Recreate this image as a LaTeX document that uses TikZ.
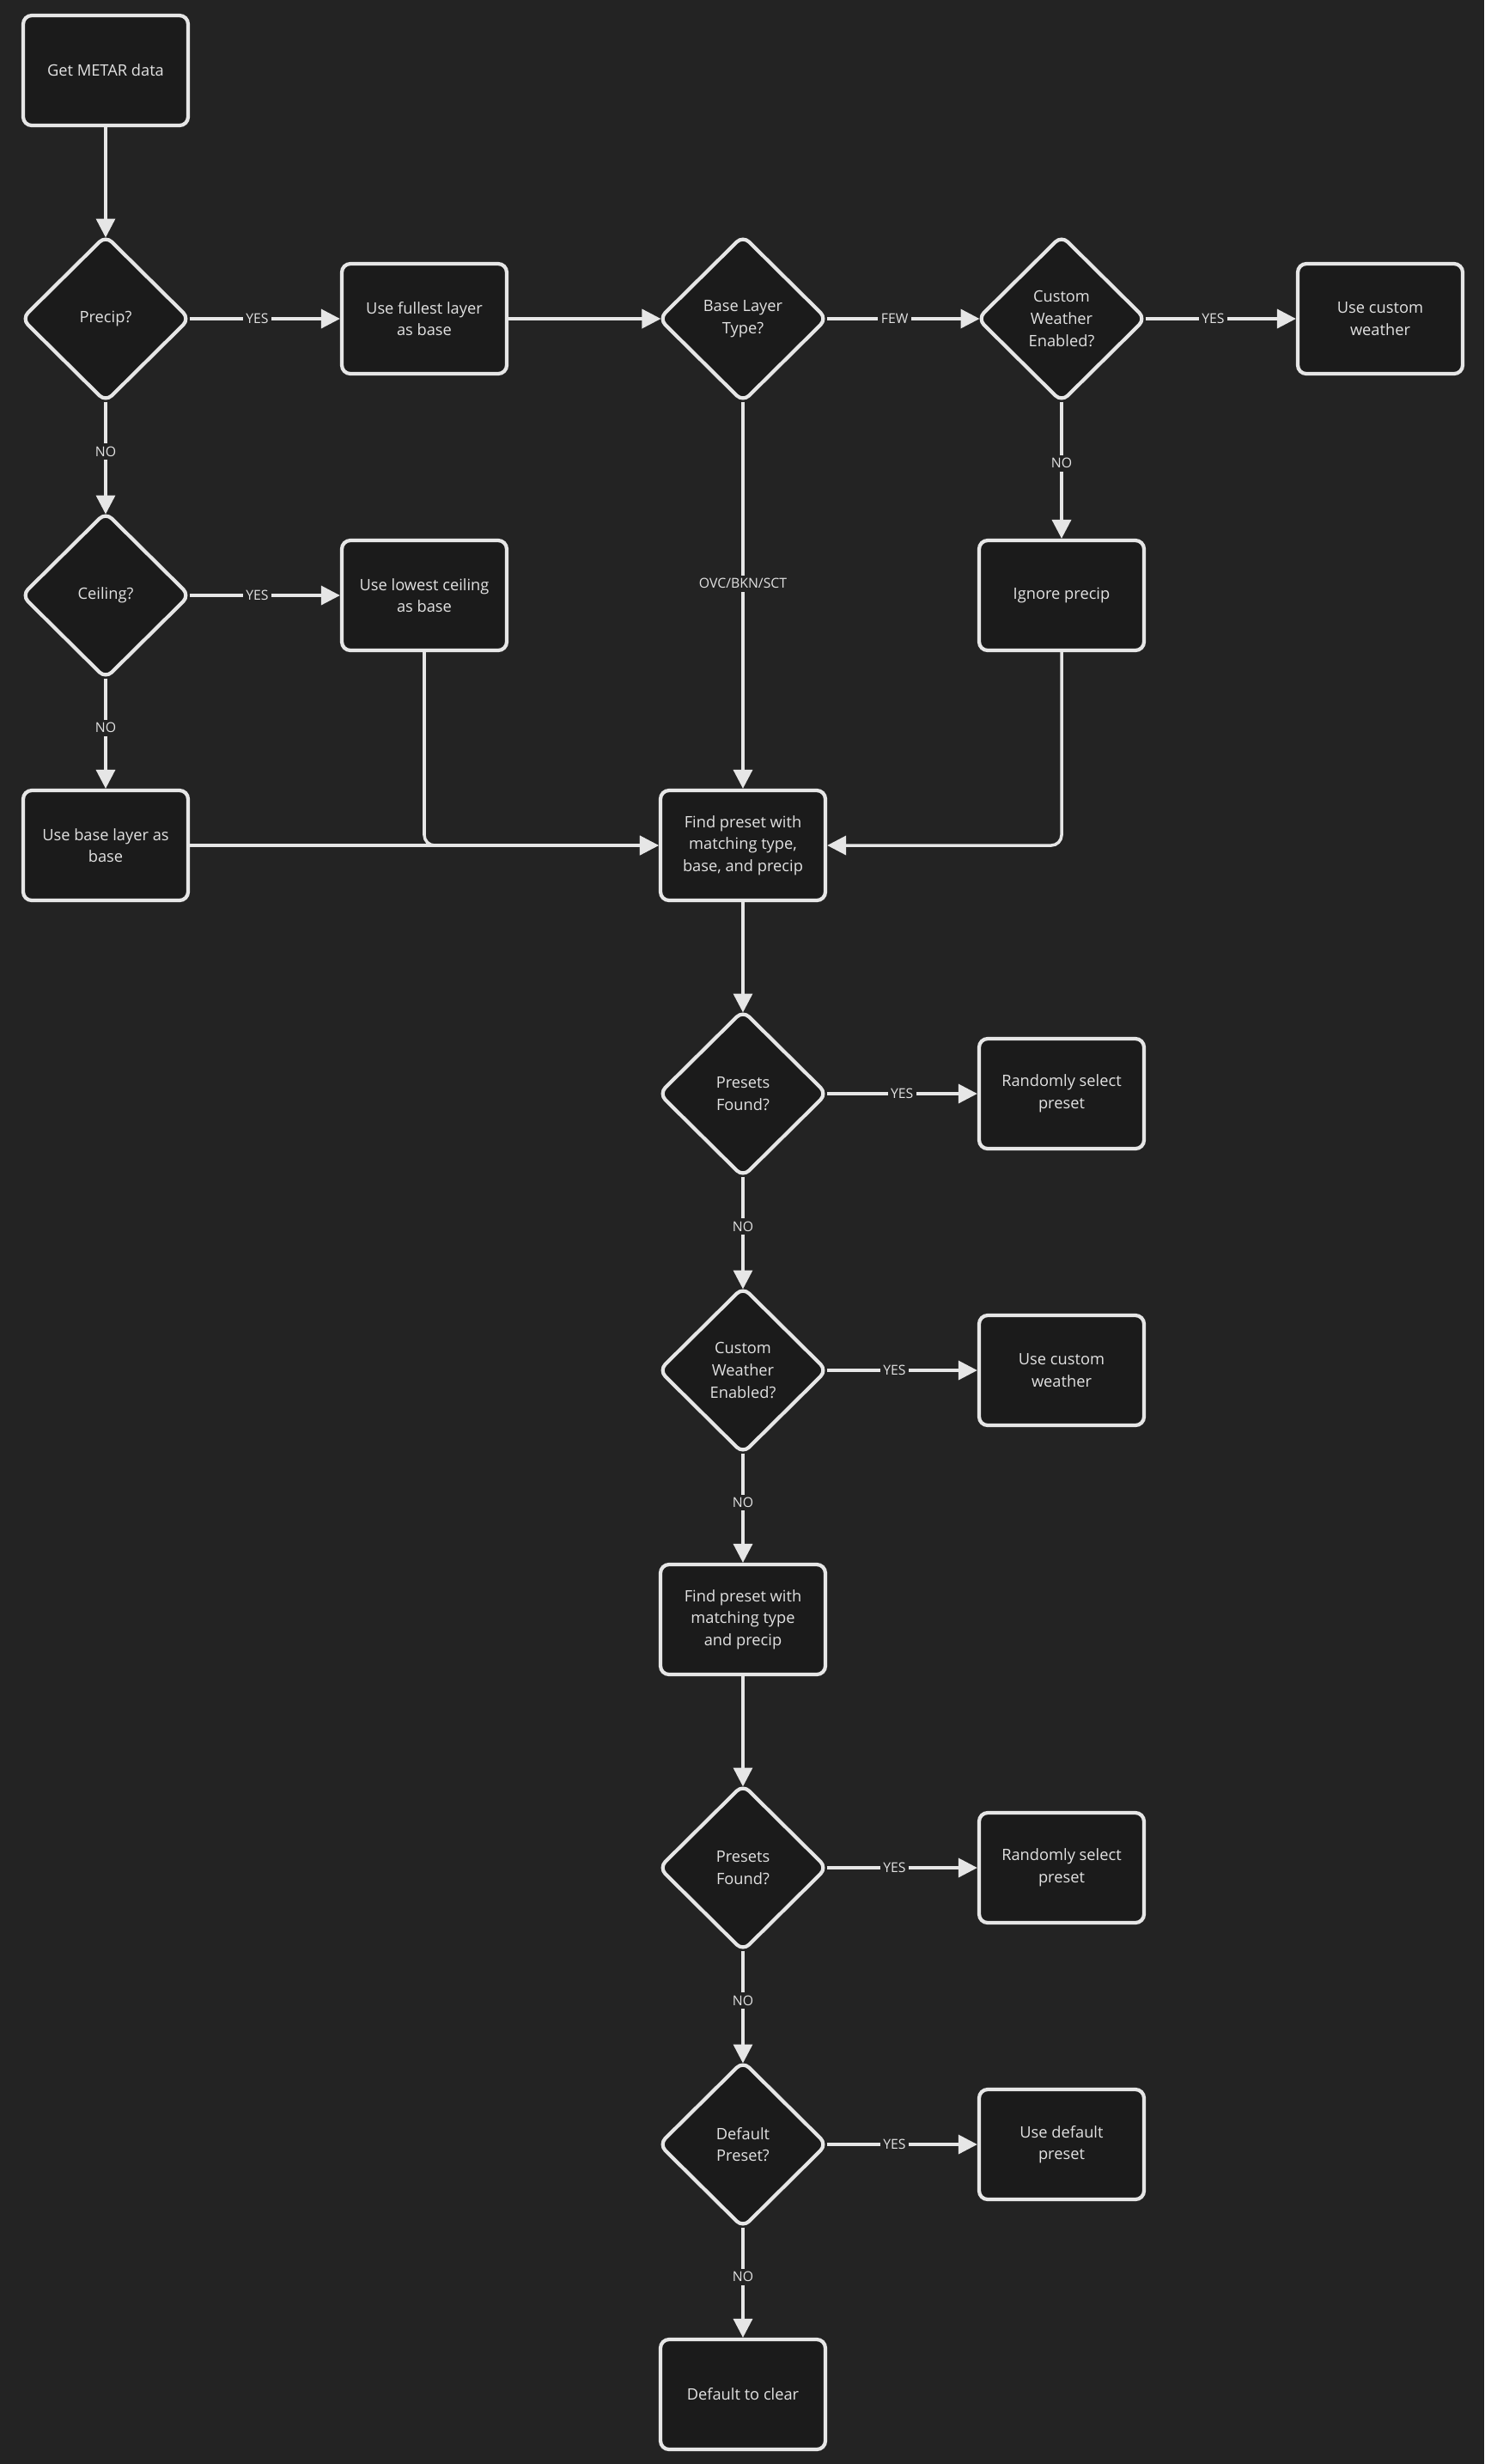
\documentclass[tikz,border=0pt]{standalone}
\usepackage{fontspec}
\setmainfont{Open Sans}
\usetikzlibrary{shapes.geometric, arrows.meta}
\definecolor{bg}{HTML}{232323}
\definecolor{boxfill}{HTML}{1B1B1B}
\definecolor{ln}{HTML}{E6E6E6}
\definecolor{txt}{HTML}{E2E2E2}

\begin{document}
\begin{tikzpicture}[
    box/.style={draw=ln, fill=boxfill, line width=1.2pt, rounded corners=0.1cm, minimum width=1.92cm, minimum height=1.28cm, align=center, text=txt, font=\fontsize{5.2}{7.3}\selectfont},
    dia/.style={diamond, draw=ln, fill=boxfill, line width=1.2pt, rounded corners=0.1cm, minimum width=1.95cm, minimum height=1.93cm, inner sep=0pt, outer sep=0pt, align=center, text=txt, font=\fontsize{5.2}{7.3}\selectfont},
    arr/.style={ln, line width=1pt, -{Triangle[length=0.22cm, width=0.22cm]}},
    india/.style={shorten >=-0.02cm},
    lbl/.style={fill=bg, text=txt, inner sep=1pt, font=\fontsize{4.5}{5}\selectfont}
]
    \fill[bg] (0,0) rectangle (17.28,-28.68);
    \useasboundingbox (0,0) rectangle (17.28,-28.68);

    % left column
    \node[box] (metar) at (1.23,-0.82) {Get METAR data};
    \node[dia] (precip) at (1.23,-3.71) {Precip?};
    \node[dia] (ceil) at (1.23,-6.93) {Ceiling?};
    \node[box] (baselyr) at (1.23,-9.84) {Use base layer as\\base};

    \node[box] (fullest) at (4.94,-3.71) {Use fullest layer\\as base};
    \node[box] (lowest) at (4.94,-6.93) {Use lowest ceiling\\as base};

    % top right
    \node[dia] (lyrtype) at (8.65,-3.71) {Base Layer\\Type?};
    \node[dia] (cust1) at (12.36,-3.71) {Custom\\Weather\\Enabled?};
    \node[box] (usecust1) at (16.07,-3.71) {Use custom\\weather};
    \node[box] (ignore) at (12.36,-6.93) {Ignore precip};

    % main column
    \node[box] (find1) at (8.65,-9.84) {Find preset with\\matching type,\\base, and precip};
    \node[dia] (found1) at (8.65,-12.73) {Presets\\Found?};
    \node[box] (rand1) at (12.36,-12.73) {Randomly select\\preset};
    \node[dia] (cust2) at (8.65,-15.95) {Custom\\Weather\\Enabled?};
    \node[box] (usecust2) at (12.36,-15.95) {Use custom\\weather};
    \node[box] (find2) at (8.65,-18.85) {Find preset with\\matching type\\and precip};
    \node[dia] (found2) at (8.65,-21.74) {Presets\\Found?};
    \node[box] (rand2) at (12.36,-21.74) {Randomly select\\preset};
    \node[dia] (dflt) at (8.65,-24.96) {Default\\Preset?};
    \node[box] (usedflt) at (12.36,-24.96) {Use default\\preset};
    \node[box] (clear) at (8.65,-27.87) {Default to clear};

    \draw[arr, india] (metar) -- (precip);
    \draw[arr] (precip) -- node[lbl, pos=0.45]{YES} (fullest);
    \draw[arr, india] (precip) -- node[lbl, pos=0.45]{NO} (ceil);
    \draw[arr] (ceil) -- node[lbl, pos=0.45]{YES} (lowest);
    \draw[arr] (ceil) -- node[lbl, pos=0.45]{NO} (baselyr);
    \draw[arr, india] (fullest) -- (lyrtype);
    \draw[arr, india] (lyrtype) -- node[lbl, pos=0.45]{FEW} (cust1);
    \draw[arr] (cust1) -- node[lbl, pos=0.45]{YES} (usecust1);
    \draw[arr] (cust1) -- node[lbl, pos=0.45]{NO} (ignore);
    \draw[arr] (lyrtype) -- node[lbl, pos=0.47]{OVC/BKN/SCT} (find1);
    \draw[arr] (baselyr) -- (find1);
    \draw[arr, rounded corners=0.12cm] (lowest.south) |- (find1.west);
    \draw[arr, rounded corners=0.12cm] (ignore.south) |- (find1.east);

    \draw[arr, india] (find1) -- (found1);
    \draw[arr] (found1) -- node[lbl, pos=0.5]{YES} (rand1);
    \draw[arr, india] (found1) -- node[lbl, pos=0.45]{NO} (cust2);
    \draw[arr] (cust2) -- node[lbl, pos=0.45]{YES} (usecust2);
    \draw[arr] (cust2) -- node[lbl, pos=0.45]{NO} (find2);
    \draw[arr, india] (find2) -- (found2);
    \draw[arr] (found2) -- node[lbl, pos=0.45]{YES} (rand2);
    \draw[arr, india] (found2) -- node[lbl, pos=0.45]{NO} (dflt);
    \draw[arr] (dflt) -- node[lbl, pos=0.45]{YES} (usedflt);
    \draw[arr] (dflt) -- node[lbl, pos=0.45]{NO} (clear);
\end{tikzpicture}
\end{document}
